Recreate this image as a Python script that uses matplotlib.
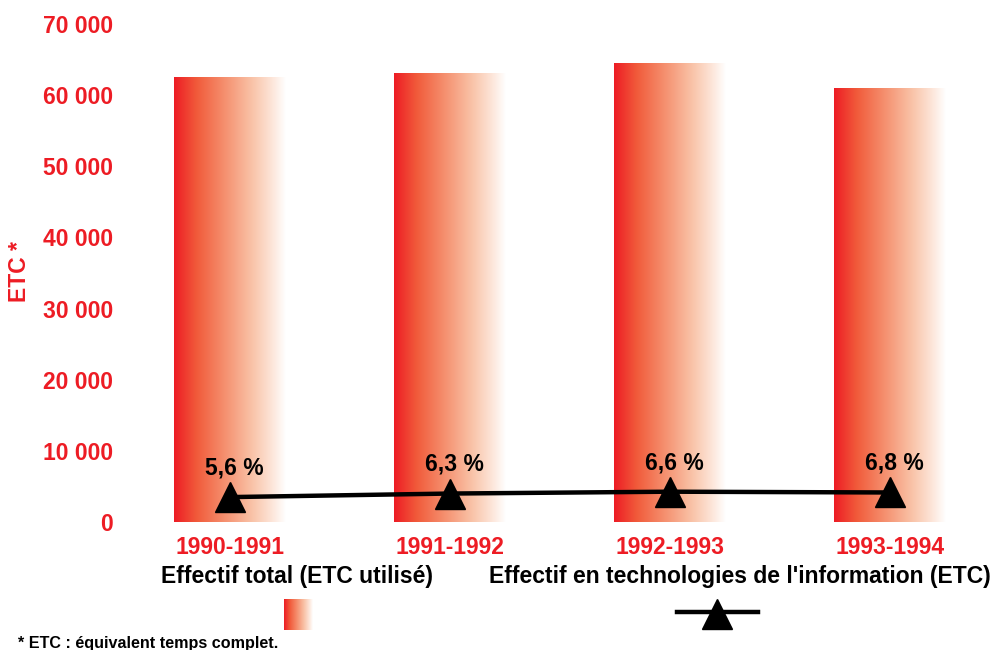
import matplotlib
matplotlib.use("Agg")
import matplotlib.pyplot as plt
import numpy as np
from matplotlib.colors import LinearSegmentedColormap
from matplotlib.lines import Line2D

plt.rcParams['font.family'] = ['Liberation Sans', 'DejaVu Sans']
plt.rcParams['font.weight'] = 'bold'

# ---- data ----
categories = ["1990-1991", "1991-1992", "1992-1993", "1993-1994"]
total_etc = [62600, 63100, 64500, 61000]
it_etc = [3500, 4000, 4260, 4150]
pct_labels = ["5,6 %", "6,3 %", "6,6 %", "6,8 %"]
yticks = [0, 10000, 20000, 30000, 40000, 50000, 60000, 70000]
ytick_labels = ["0", "10 000", "20 000", "30 000", "40 000", "50 000", "60 000", "70 000"]
legend_total = "Effectif total (ETC utilisé)"
legend_it = "Effectif en technologies de l'information (ETC)"
ylabel = "ETC *"
footnote = "* ETC : équivalent temps complet."

RED = "#ED1C24"
FS = 16.5

W, H = 993, 650
fig = plt.figure(figsize=(W / 100, H / 100), dpi=100)
ax = fig.add_axes([120 / W, (H - 522) / H, (989 - 120) / W, (522 - 24) / H])

cmap = LinearSegmentedColormap.from_list(
    "grad",
    [(0.0, "#ED1C24"), (0.2, "#F15A3A"), (0.45, "#F58F6E"),
     (0.7, "#F9C3A8"), (0.88, "#FDE6DA"), (1.0, "#FFFFFF")])
grad = np.linspace(0, 1, 256).reshape(1, -1)

x = np.arange(len(categories))
bars = ax.bar(x, total_etc, width=0.505, color='none', edgecolor='none')
for b in bars:
    x0, y0 = b.get_x(), b.get_y()
    w, h = b.get_width(), b.get_height()
    im = ax.imshow(grad, cmap=cmap, aspect='auto', extent=[x0, x0 + w, y0, y0 + h],
                   interpolation='bilinear', zorder=1)
    im.set_clip_path(b)

ax.plot(x, it_etc, color='black', lw=3.2, marker='^', ms=22, zorder=5)
for xi, yi, lab in zip(x, it_etc, pct_labels):
    ax.annotate(lab, (xi, yi), xytext=(3, 21), textcoords='offset points',
                ha='center', va='center', fontsize=FS, fontweight='bold',
                color='black', zorder=6)

ax.set_xlim(-0.5, 3.45)
ax.set_ylim(0, 70000)
ax.set_yticks(yticks)
ax.set_yticklabels(ytick_labels)
ax.set_xticks(x)
ax.set_xticklabels(categories)
ax.tick_params(axis='both', length=0, labelsize=FS, labelcolor=RED)
ax.tick_params(axis='y', pad=5)
ax.tick_params(axis='x', pad=10)
for lab in ax.get_xticklabels() + ax.get_yticklabels():
    lab.set_fontweight('bold')
for s in ax.spines.values():
    s.set_visible(False)
ax.set_facecolor('none')

fig.text(20 / W, 1 - 272 / H, ylabel, rotation=90, ha='center', va='center',
         fontsize=FS, fontweight='bold', color=RED)

fig.text(297 / W, 1 - 577 / H, legend_total, ha='center', va='center',
         fontsize=FS, fontweight='bold', color='black')
fig.text(740 / W, 1 - 577 / H, legend_it, ha='center', va='center',
         fontsize=FS, fontweight='bold', color='black')

lax = fig.add_axes([284 / W, (H - 630) / H, 29 / W, 31 / H])
lax.imshow(grad, cmap=cmap, aspect='auto', interpolation='bilinear')
lax.axis('off')

ly = 1 - 612 / H
fig.add_artist(Line2D([677 / W, 758 / W], [ly, ly], transform=fig.transFigure,
                      color='black', lw=3.2))
fig.add_artist(Line2D([717 / W], [1 - 614 / H], transform=fig.transFigure,
                      color='black', marker='^', ms=22, lw=0))

fig.text(18 / W, 1 - 648 / H, footnote, ha='left', va='baseline',
         fontsize=11.6, fontweight='bold', color='black')

fig.savefig("out.png", dpi=100)
